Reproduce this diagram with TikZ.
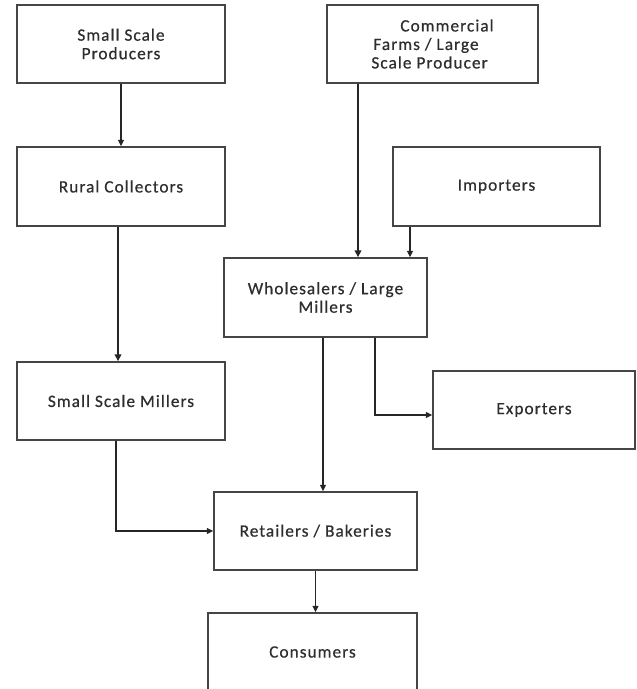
\documentclass[tikz,border=0pt]{standalone}
\usepackage{fontspec}
\setmainfont{Carlito}[LetterSpace=6,FakeBold=0.6]
\usetikzlibrary{arrows.meta}
\definecolor{boxline}{HTML}{454545}
\definecolor{txt}{HTML}{2E2E2E}
\begin{document}
\begin{tikzpicture}[x=1pt,y=-1pt,
  box/.style={draw=boxline,line width=1.4pt,rectangle,inner sep=0pt,
    align=center,text=txt,font=\fontsize{17.3}{18.5}\selectfont},
  flow/.style={draw=black!85,line width=1.2pt,-{Triangle[length=6.5pt,width=6pt]}},
  heavy/.style={flow,line width=2.3pt,-{Triangle[length=7pt,width=6.5pt]}}]
\useasboundingbox (0,0) rectangle (637,689);

% supply chain stages
\node[box,minimum width=208pt,minimum height=78pt] (ssp) at (121,44) {Small Scale\\Producers};
\node[box,minimum width=211pt,minimum height=78pt,align=left] (cfp) at (432.5,44)
  {\hspace*{29pt}Commercial\\\hspace*{2pt}Farms / Large\\Scale Producer};
\node[box,minimum width=208pt,minimum height=79pt] (rc) at (121,186.5) {Rural Collectors};
\node[box,minimum width=207pt,minimum height=79pt] (imp) at (496.5,186.5) {Importers};
\node[box,minimum width=203pt,minimum height=79pt] (wlm) at (325.5,297.5) {Wholesalers / Large\\Millers};
\node[box,minimum width=208pt,minimum height=78pt] (ssm) at (121,401) {Small Scale Millers};
\node[box,minimum width=202pt,minimum height=78pt] (exp) at (534,410) {Exporters};
\node[box,minimum width=203pt,minimum height=78pt] (ret) at (315.5,531) {Retailers / Bakeries};
\node[box,minimum width=209pt,minimum height=78pt] (con) at (312.5,652) {Consumers};

% flows
\draw[flow] (ssp.south) -- (rc.north);
\draw[heavy] ([xshift=-3pt]rc.south) -- ([xshift=-3pt]rc.south |- ssm.north);
\draw[heavy] ([xshift=-74.5pt]cfp.south) -- ([xshift=-74.5pt]cfp.south |- wlm.north);
\draw[flow] ([xshift=-86.5pt]imp.south) -- ([xshift=-86.5pt]imp.south |- wlm.north);
\draw[flow] ([xshift=-2.5pt]wlm.south) -- ([xshift=-2.5pt]wlm.south |- ret.north);
\draw[flow] ([xshift=49.5pt]wlm.south) |- ([yshift=-5pt]exp.west);
\draw[flow] ([xshift=-5pt]ssm.south) |- (ret.west);
\draw[flow] (ret.south) -- (ret.south |- con.north);
\end{tikzpicture}
\end{document}
